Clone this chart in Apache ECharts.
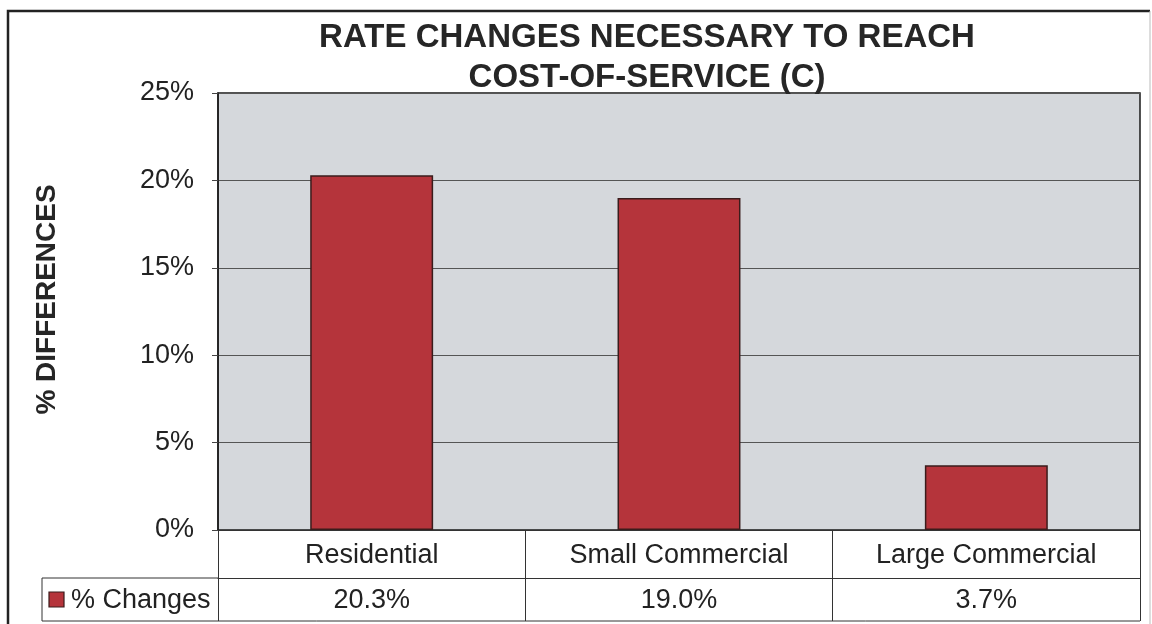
<!DOCTYPE html>
<html>
<head>
<meta charset="utf-8">
<script src="https://cdn.jsdelivr.net/npm/echarts@6/dist/echarts.min.js"></script>
<style>
html,body{margin:0;padding:0;background:#fff;}
#chart{width:1152px;height:624px;}
</style>
</head>
<body>
<div id="chart"></div>
<script>
const titleLines = ['RATE CHANGES NECESSARY TO REACH', 'COST-OF-SERVICE (C)'];
const yAxisTitle = '% DIFFERENCES';
const seriesName = '% Changes';
const categories = ['Residential', 'Small Commercial', 'Large Commercial'];
const values = [20.3, 19.0, 3.7];
const yTicks = [0, 5, 10, 15, 20, 25];

const FONT = '"Liberation Sans", Arial, sans-serif';
const chart = echarts.init(document.getElementById('chart'), null, {renderer: 'canvas'});

const G = {left: 218, top: 93, right: 1140, bottom: 530};
const row1 = 48, row2 = 43;
const legendLeft = 42;

chart.setOption({
  animation: false,
  backgroundColor: '#ffffff',
  title: {
    text: titleLines.join('\n'),
    left: 642,
    textAlign: 'center',
    top: 13,
    textStyle: {fontFamily: FONT, fontSize: 33, fontWeight: 'bold', color: '#262626', lineHeight: 40}
  },
  grid: {
    left: G.left, top: G.top, width: G.right - G.left, height: G.bottom - G.top,
    show: true, backgroundColor: '#d5d8dc', borderColor: '#1a1a1a', borderWidth: 1.5
  },
  xAxis: [{
    type: 'category',
    data: categories,
    boundaryGap: true,
    axisLine: {show: true, lineStyle: {color: '#333', width: 1}},
    axisTick: {show: true, length: row1 + row2, alignWithLabel: false, lineStyle: {color: '#333', width: 1}},
    axisLabel: {fontFamily: FONT, fontSize: 27, color: '#222', margin: 12},
    splitLine: {show: false}
  }, {
    type: 'category',
    position: 'bottom',
    offset: row1,
    data: values.map(v => v.toFixed(1) + '%'),
    axisLine: {show: true, lineStyle: {color: '#333', width: 1}},
    axisTick: {show: false},
    axisLabel: {fontFamily: FONT, fontSize: 27, color: '#222', margin: 9}
  }],
  yAxis: {
    type: 'value',
    min: yTicks[0], max: yTicks[yTicks.length - 1], interval: 5,
    name: yAxisTitle,
    nameLocation: 'middle',
    nameGap: 157,
    nameRotate: 90,
    nameTextStyle: {fontFamily: FONT, fontSize: 28, fontWeight: 'bold', color: '#262626', padding: [0, 0, 0, 24]},
    axisLine: {show: true, lineStyle: {color: '#1a1a1a', width: 1.5}},
    axisTick: {show: true, length: 6, lineStyle: {color: '#444'}},
    axisLabel: {fontFamily: FONT, fontSize: 27, color: '#222', margin: 24, formatter: v => v + '%'},
    splitLine: {show: true, lineStyle: {color: '#555', width: 1}}
  },
  series: [{
    name: seriesName,
    type: 'bar',
    data: values,
    barWidth: '40%',
    itemStyle: {color: '#b5343b', borderColor: '#3a1c1c', borderWidth: 1.5}
  }],
  graphic: [
    // outer frame
    {type: 'polyline', shape: {points: [[8, 640], [8, 11], [1150, 11]]}, style: {fill: null, stroke: '#222', lineWidth: 2.5}, silent: true},
    {type: 'line', shape: {x1: 1150, y1: 11, x2: 1150, y2: 640}, style: {stroke: '#bbb', lineWidth: 1}, silent: true},
    // legend cell
    {type: 'polyline', shape: {points: [[G.left, G.bottom + row1], [legendLeft, G.bottom + row1], [legendLeft, G.bottom + row1 + row2], [G.right, G.bottom + row1 + row2]]}, style: {fill: null, stroke: '#333', lineWidth: 1}},
    {type: 'rect', shape: {x: 49, y: 592, width: 15, height: 15}, style: {fill: '#b5343b', stroke: '#3a1c1c', lineWidth: 1.2}},
    {type: 'text', style: {x: 71, y: G.bottom + row1 + row2 / 2 + 1, text: seriesName, font: '27px ' + FONT, fill: '#222', verticalAlign: 'middle'}}
  ]
});
</script>
</body>
</html>
